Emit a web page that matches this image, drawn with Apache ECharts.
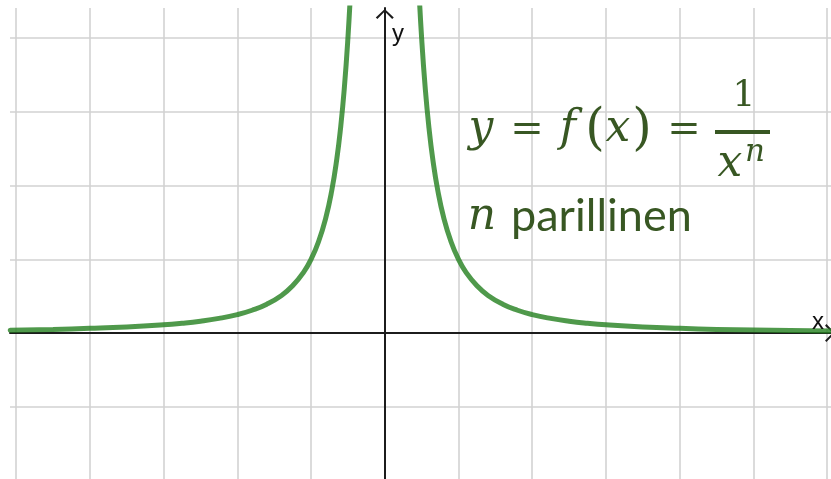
<!DOCTYPE html>
<html>
<head>
<meta charset="utf-8">
<script src="https://cdn.jsdelivr.net/npm/echarts@6/dist/echarts.min.js"></script>
<style>
  html, body { margin: 0; padding: 0; background: #ffffff; }
  #chart { width: 831px; height: 479px; }
</style>
</head>
<body>
<div id="chart"></div>
<script>
// Visible window of the coordinate plane
const xRange = [-5.083, 6.052];
const yRange = [-1.981, 4.41];

// Unit grid lines (x = 0 and y = 0 are the axes themselves)
const xGridLines = [-5, -4, -3, -2, -1, 1, 2, 3, 4, 5, 6];
const yGridLines = [-1, 1, 2, 3, 4];

// Curve y = 1 / x^n (n even): left branch, x < 0
const leftX = [-5.08, -4.5, -4, -3.5, -3, -2.75, -2.5, -2.25, -2, -1.8, -1.6, -1.4, -1.25, -1.1, -1, -0.9, -0.8, -0.72, -0.65, -0.6, -0.55, -0.5, -0.46, -0.42];
const leftY = [0.039, 0.049, 0.063, 0.082, 0.111, 0.132, 0.16, 0.198, 0.25, 0.309, 0.391, 0.51, 0.64, 0.826, 1.0, 1.235, 1.563, 1.929, 2.367, 2.778, 3.306, 4.0, 4.726, 5.669];

// Right branch, x > 0
const rightX = [0.42, 0.46, 0.5, 0.55, 0.6, 0.65, 0.72, 0.8, 0.9, 1, 1.1, 1.25, 1.4, 1.6, 1.8, 2, 2.25, 2.5, 2.75, 3, 3.5, 4, 4.5, 5, 5.5, 6.06];
const rightY = [5.669, 4.726, 4.0, 3.306, 2.778, 2.367, 1.929, 1.563, 1.235, 1.0, 0.826, 0.64, 0.51, 0.391, 0.309, 0.25, 0.198, 0.16, 0.132, 0.111, 0.082, 0.063, 0.049, 0.04, 0.033, 0.027];

const pairs = (xs, ys) => xs.map((x, i) => [x, ys[i]]);

const CURVE = 'rgba(40,130,35,0.82)';
const TEXT_GREEN = '#385723';
const AXIS_BLACK = '#1c1c1c';
const GRID_GRAY = '#d2d2d2';

// Open chevron used as the axis arrow head (tip points along the axis)
const chevron = 'path://M0,9.5 L10,0 L20,9.5 L18.2,11 L10,2.6 L1.8,11 Z';

const serif = '"DejaVu Serif", "Liberation Serif", serif';

function glyph(text, cx, cy, size, italic, family) {
  return {
    type: 'text',
    x: cx, y: cy,
    silent: true,
    z: 20,
    style: {
      text: text,
      fill: TEXT_GREEN,
      font: (italic ? 'italic ' : '') + size + 'px ' + (family || serif),
      align: 'center',
      verticalAlign: 'middle'
    }
  };
}

const chart = echarts.init(document.getElementById('chart'), null, { renderer: 'canvas' });

chart.setOption({
  animation: false,
  backgroundColor: '#ffffff',
  grid: { left: 10, top: 8, right: 0, bottom: 0, containLabel: false },
  xAxis: {
    type: 'value',
    min: xRange[0], max: xRange[1],
    z: 3,
    axisLine: {
      onZero: true,
      lineStyle: { color: AXIS_BLACK, width: 2 },
      symbol: ['none', chevron],
      symbolSize: [18, 10],
      symbolOffset: [0, -1]
    },
    axisTick: { show: false },
    axisLabel: { show: false },
    splitLine: { show: false }
  },
  yAxis: {
    type: 'value',
    min: yRange[0], max: yRange[1],
    z: 3,
    axisLine: {
      onZero: true,
      lineStyle: { color: AXIS_BLACK, width: 2 },
      symbol: ['none', chevron],
      symbolSize: [18, 10],
      symbolOffset: [0, -6]
    },
    axisTick: { show: false },
    axisLabel: { show: false },
    splitLine: { show: false }
  },
  series: [
    {
      name: 'grid',
      type: 'line',
      data: [],
      silent: true,
      markLine: {
        z: 1,
        silent: true,
        symbol: ['none', 'none'],
        label: { show: false },
        lineStyle: { color: GRID_GRAY, width: 1.6, type: 'solid' },
        emphasis: { disabled: true },
        data: xGridLines.map(v => ({ xAxis: v })).concat(yGridLines.map(v => ({ yAxis: v })))
      }
    },
    {
      name: 'left',
      type: 'line',
      z: 5,
      data: pairs(leftX, leftY),
      showSymbol: false,
      smooth: 0.5,
      clip: true,
      lineStyle: { color: CURVE, width: 5, cap: 'round', join: 'round' }
    },
    {
      name: 'right',
      type: 'line',
      z: 5,
      data: pairs(rightX, rightY),
      showSymbol: false,
      smooth: 0.5,
      clip: true,
      lineStyle: { color: CURVE, width: 5, cap: 'round', join: 'round' }
    }
  ],
  graphic: [
    // axis names
    { type: 'text', left: 392, top: 22, silent: true, z: 20,
      style: { text: 'y', fill: '#111111', font: '24px "Liberation Sans", Arial, sans-serif' } },
    { type: 'text', left: 812, top: 310, silent: true, z: 20,
      style: { text: 'x', fill: '#111111', font: '24px "Liberation Sans", Arial, sans-serif' } },

    // y = f(x) = 1 / x^n
    glyph('y', 481, 130, 44, true),
    glyph('=', 527, 131, 40, false),
    glyph('f', 568, 130, 44, true),
    glyph('(', 595, 131, 50, false),
    glyph('x', 618, 130, 44, true),
    glyph(')', 642, 131, 50, false),
    glyph('=', 684, 131, 40, false),
    glyph('1', 744, 97, 36, false),
    { type: 'rect', silent: true, z: 20,
      shape: { x: 715, y: 130, width: 55, height: 4 },
      style: { fill: TEXT_GREEN } },
    glyph('x', 730, 165, 44, true),
    glyph('n', 755, 153, 31, true),

    // n parillinen
    glyph('n', 482, 218, 44, true),
    { type: 'text', left: 511, top: 194, silent: true, z: 20,
      style: { text: 'parillinen', fill: TEXT_GREEN, font: '45px Lato, "Open Sans", sans-serif' } }
  ]
});
</script>
</body>
</html>
